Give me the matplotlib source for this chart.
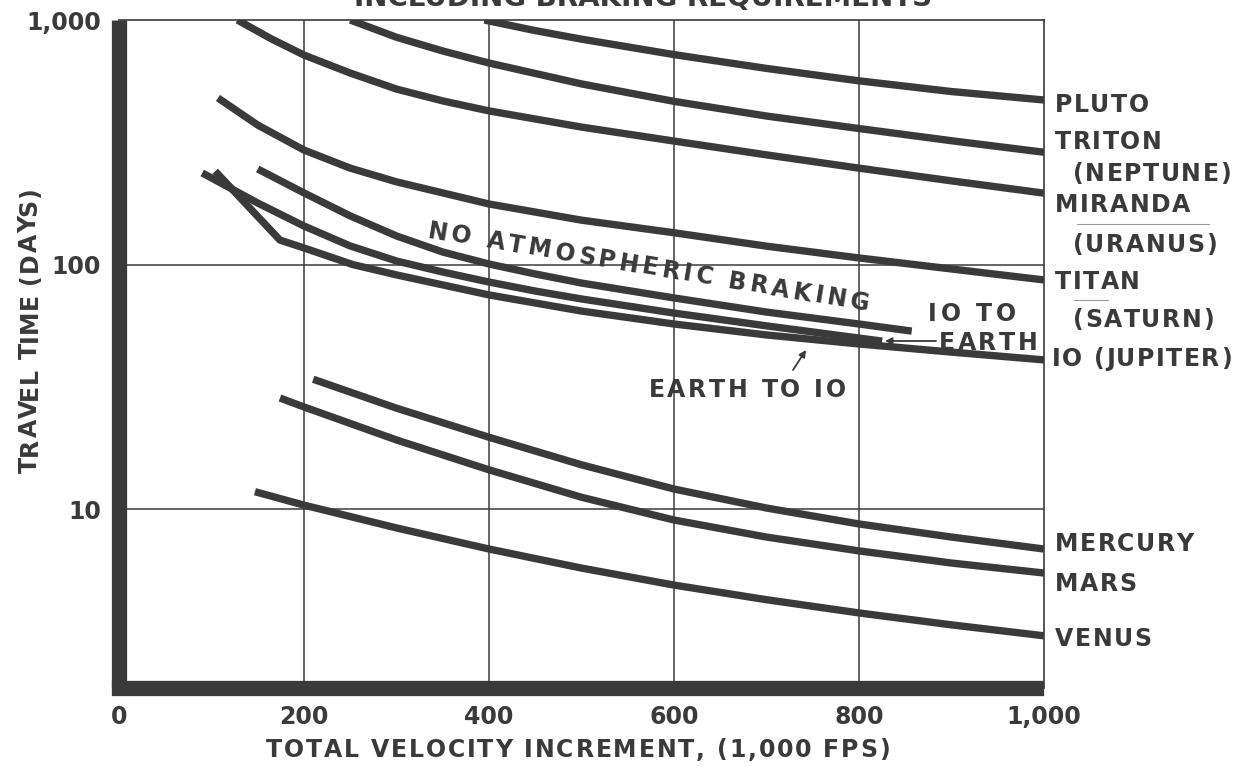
import numpy as np
import matplotlib
matplotlib.use("Agg")
import matplotlib.pyplot as plt
from matplotlib import font_manager
from matplotlib.ft2font import FT2Font

# travel time (days) vs total velocity increment (1,000 fps)
pluto_v = [395, 450, 500, 600, 700, 800, 900, 1000]
pluto_t = [1000, 905, 835, 722, 634, 564, 510, 471]

triton_v = [250, 300, 350, 400, 500, 600, 700, 800, 900, 1000]
triton_t = [1000, 850, 747, 667, 548, 465, 405, 360, 321, 288]

miranda_v = [128, 165, 200, 250, 300, 350, 400, 500, 600, 700, 800, 900, 1000]
miranda_t = [1000, 836, 719, 607, 522, 467, 425, 365, 320, 281, 248, 220, 196]

titan_v = [107, 150, 200, 250, 300, 400, 500, 600, 700, 800, 900, 1000]
titan_t = [480, 372, 294, 248, 218, 177, 152, 135, 119, 106.5, 96, 86.6]

no_braking_v = [150, 200, 250, 300, 350, 400, 450, 500, 600, 700, 800, 857]
no_braking_t = [246, 196.4, 158.2, 131.0, 112.6, 100.6, 91.6, 84.1, 73.1,
                64.0, 57.2, 53.5]

io_earth_v = [90, 150, 200, 250, 300, 350, 400, 450, 500, 600, 700, 800, 825]
io_earth_t = [237, 178.6, 143.8, 119.2, 103.5, 93.3, 84.9, 78.0, 72.4, 63.4,
              56.2, 50.1, 48.7]

earth_io_v = [104, 174, 200, 253, 300, 400, 500, 600, 700, 800, 900, 1000]
earth_io_t = [241, 126, 117, 100, 90.8, 75.2, 64.6, 57.2, 51.6, 47.4, 43.9,
              40.8]

mercury_v = [210, 300, 400, 500, 600, 700, 800, 900, 1000]
mercury_t = [34, 25.9, 19.7, 15.2, 12.1, 10.12, 8.71, 7.70, 6.88]

mars_v = [174, 200, 300, 400, 500, 600, 700, 800, 900, 1000]
mars_t = [28.5, 26.2, 19.2, 14.5, 11.2, 9.04, 7.7, 6.76, 6.03, 5.49]

venus_v = [147, 200, 300, 400, 500, 600, 700, 800, 900, 1000]
venus_t = [11.8, 10.4, 8.39, 6.88, 5.75, 4.90, 4.27, 3.77, 3.37, 3.04]

x_ticks = [0, 200, 400, 600, 800, 1000]
x_labels = ["0", "200", "400", "600", "800", "1,000"]
y_ticks = [10, 100, 1000]
y_labels = ["10", "100", "1,000"]

INK = "#3a3a3a"
W, H = 1244, 767
PT = 100 / 72


def px(x, y):
    # pixel position -> figure fraction
    return x / W, 1 - y / H


plt.rcParams["font.family"] = ["DejaVu Sans"]
plt.rcParams["font.weight"] = "bold"

fig = plt.figure(figsize=(W / 100, H / 100), dpi=100)

_prop = font_manager.FontProperties(family="DejaVu Sans", weight="bold")
_font = FT2Font(font_manager.findfont(_prop))


def tracked(x, y, s, size=17, track=1.5, angle=0.0, ha="center"):
    """Letter-spaced text; x, y = pixel centre of the cap line."""
    _font.set_size(size, 72)
    adv = [_font.load_char(ord(c)).linearHoriAdvance / 65536 * PT for c in s]
    total = sum(adv) + track * (len(s) - 1)
    d = {"center": -total / 2, "left": 0.0, "right": -total}[ha]
    a = np.radians(angle)
    ux, uy = np.cos(a), np.sin(a)
    cap = 0.729 * size * PT
    bx, by = x + cap / 2 * uy, (H - y) - cap / 2 * ux
    for c, w in zip(s, adv):
        fig.text((bx + d * ux) / W, (by + d * uy) / H, c, ha="left",
                 va="baseline", rotation=angle, rotation_mode="anchor",
                 fontsize=size, color=INK)
        d += w + track


ax = fig.add_axes([119 / W, 1 - 688 / H, (1044 - 119) / W, (688 - 20) / H])
ax.set_yscale("log")
ax.set_xlim(0, 1000)
ax.set_ylim(1.86, 1000)

# grid
for gx in x_ticks[1:-1]:
    ax.axvline(gx, color=INK, lw=1.1, zorder=1)
for gy in y_ticks[:-1]:
    ax.axhline(gy, color=INK, lw=1.1, zorder=1)

curves = [
    (pluto_v, pluto_t), (triton_v, triton_t), (miranda_v, miranda_t),
    (titan_v, titan_t), (no_braking_v, no_braking_t),
    (io_earth_v, io_earth_t), (earth_io_v, earth_io_t),
    (mercury_v, mercury_t), (mars_v, mars_t), (venus_v, venus_t),
]
for v, t in curves:
    ax.plot(v, t, color=INK, lw=5.3, solid_capstyle="butt",
            solid_joinstyle="round", zorder=3)

# frame: heavy left/bottom, thin top/right
for side in ["left", "bottom"]:
    ax.spines[side].set_linewidth(11)
    ax.spines[side].set_color(INK)
    ax.spines[side].set_zorder(5)
ax.spines["left"].set_capstyle("butt")
# bottom bar squares off the lower-left corner but stops at the right frame
ax.spines["bottom"].set_capstyle("projecting")
ax.spines["bottom"].set_bounds(0, 1000 - 7.6 / 0.925)
for side in ["top", "right"]:
    ax.spines[side].set_linewidth(1.2)
    ax.spines[side].set_color(INK)

ax.set_xticks(x_ticks)
ax.set_xticklabels(x_labels)
ax.set_yticks(y_ticks)
ax.set_yticklabels(y_labels)
ax.minorticks_off()
ax.tick_params(length=0, labelsize=17, labelcolor=INK)
ax.tick_params(axis="x", pad=12)
ax.tick_params(axis="y", pad=13)

tracked(28, 330, "TRAVEL TIME (DAYS)", track=0.5, angle=90)
tracked(578, 748, "TOTAL VELOCITY INCREMENT, (1,000 FPS)", track=1.8)
fig.text(*px(643, 6), "INCLUDING BRAKING REQUIREMENTS", ha="center",
         va="baseline", fontsize=20, color=INK)

# body labels on the right
right_labels = [
    ("PLUTO", 1055, 103), ("TRITON", 1055, 140), ("(NEPTUNE)", 1073, 172),
    ("MIRANDA", 1055, 203), ("(URANUS)", 1073, 243), ("TITAN", 1055, 280),
    ("(SATURN)", 1073, 318), ("IO (JUPITER)", 1052, 357),
    ("MERCURY", 1055, 542), ("MARS", 1055, 582), ("VENUS", 1055, 637),
]
for txt, lx, ly in right_labels:
    tracked(lx, ly, txt, track=1.5, ha="left")

# faint rules under a couple of labels
for x0, x1, ly in [(1077, 1209, 224), (1074, 1108, 300)]:
    fig.add_artist(plt.Line2D([x0 / W, x1 / W], [1 - ly / H] * 2,
                              color="#9a9a9a", lw=0.8))

tracked(649, 266, "NO ATMOSPHERIC BRAKING", track=3.7, angle=-9.5)
tracked(972, 312, "IO TO", track=3.5)
tracked(988, 341, "EARTH", track=2.5)
tracked(747, 388, "EARTH TO IO", track=2.7)

arrow = dict(arrowstyle="-|>", color=INK, lw=1.3, mutation_scale=10,
             shrinkA=0, shrinkB=0)
ax.annotate("", xy=px(885, 341), xycoords="figure fraction",
            xytext=px(936, 341), textcoords="figure fraction",
            arrowprops=arrow)
ax.annotate("", xy=px(806, 350), xycoords="figure fraction",
            xytext=px(793, 370), textcoords="figure fraction",
            arrowprops=arrow)

fig.savefig("out.png", dpi=100, facecolor="white")
